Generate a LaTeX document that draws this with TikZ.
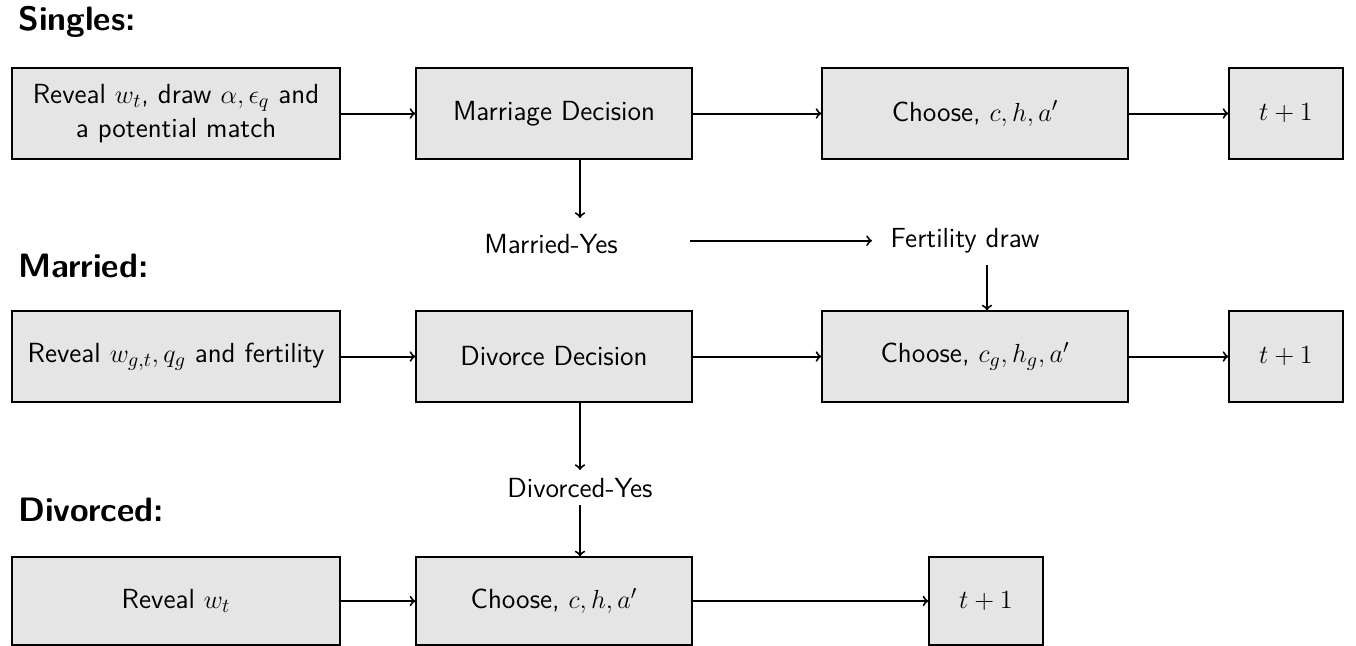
\documentclass[tikz,border=0pt]{standalone}
\usetikzlibrary{calc}
\newcommand{\bodyfont}{\fontsize{15.2}{18.6}\selectfont\sffamily}
\tikzset{
  box/.style={draw=black, line width=0.7pt, fill=gray!20, font=\bodyfont, align=center, inner sep=2pt, minimum height=50.05pt},
  wa/.style={box, minimum width=180.4pt},
  wb/.style={box, minimum width=151.8pt},
  wc/.style={box, minimum width=168.3pt},
  wd/.style={box, minimum width=62.7pt},
  lbl/.style={font=\bodyfont, inner sep=0pt, anchor=base},
  head/.style={font=\fontsize{18.6}{22}\selectfont\sffamily\bfseries, inner sep=0pt, anchor=base west},
  arr/.style={->, line width=1.1pt}
}
\begin{document}
\begin{tikzpicture}[x=0.55pt, y=-0.55pt]
\useasboundingbox (0,0) rectangle (1356,645);
% headings
\node[head] (hs) at (18,30) {Singles:};
\node[head] (hm) at (18,277) {Married:};
\node[head] (hd) at (18,521) {Divorced:};
% row 1
\node[wa] (a1) at (176,113.5) {Reveal $w_t$, draw $\alpha,\epsilon_q$ and\\ a potential match};
\node[wb] (b1) at (554,113.5) {Marriage Decision};
\node[wc] (c1) at (975,113.5) {Choose, $c,h,a'$};
\node[wd] (d1) at (1286,113.5) {$t+1$};
% row 2
\node[wa] (a2) at (176,356.5) {Reveal $w_{g,t},q_g$ and fertility};
\node[wb] (b2) at (554,356.5) {Divorce Decision};
\node[wc] (c2) at (975,356.5) {Choose, $c_g,h_g,a'$};
\node[wd] (d2) at (1286,356.5) {$t+1$};
% row 3
\node[wa, minimum height=48.4pt] (a3) at (176,601) {Reveal $w_t$};
\node[wb, minimum height=48.4pt] (b3) at (554,601) {Choose, $c,h,a'$};
\node[wd, minimum height=48.4pt] (d3) at (986,601) {$t+1$};
% labels
\node[lbl] (my) at (551,253) {Married-Yes};
\node[lbl] (fd) at (965,247) {Fertility draw};
\node[lbl] (dy) at (580,497) {Divorced-Yes};
% horizontal arrows
\draw[arr] (a1.east) -- (b1.west);
\draw[arr] (b1.east) -- (c1.west);
\draw[arr] (c1.east) -- (d1.west);
\draw[arr] (a2.east) -- (b2.west);
\draw[arr] (b2.east) -- (c2.west);
\draw[arr] (c2.east) -- (d2.west);
\draw[arr] (a3.east) -- (b3.west);
\draw[arr] (b3.east) -- (d3.west);
% vertical / other arrows
\draw[arr] ($(b1.south)+(26,0)$) -- ($(my.base)+(29,-35)$);
\draw[arr] ($(my.base)+(139,-12.3)$) -- ($(fd.base)+(-93,-6.3)$);
\draw[arr] ($(fd.base)+(22,18)$) -- ($(c2.north)+(12,0)$);
\draw[arr] ($(b2.south)+(26,0)$) -- ($(dy.base)+(0,-27)$);
\draw[arr] ($(dy.base)+(0,8)$) -- ($(b3.north)+(26,0)$);
\end{tikzpicture}
\end{document}
